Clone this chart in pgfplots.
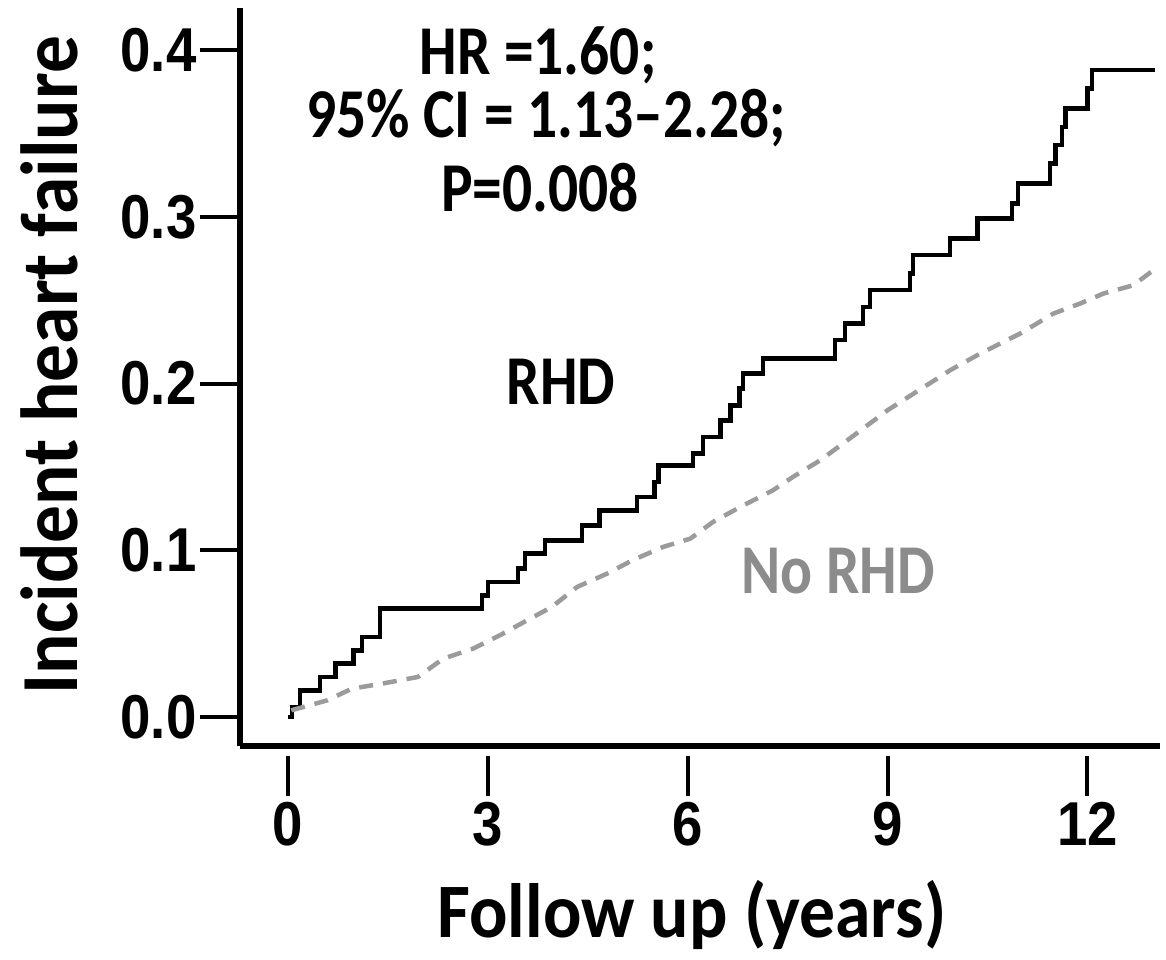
\documentclass[border=0pt]{standalone}
\usepackage{pgfplots}
\pgfplotsset{compat=1.18}
\usepackage{fontspec}
\setmainfont{Carlito}
\newfontfamily\annfont{Carlito}[FakeStretch=0.85,Ligatures=TeX]
\newfontfamily\labfont{Carlito}[FakeStretch=0.93]
\newfontfamily\tickfont{Liberation Sans}[FakeStretch=0.88]
\definecolor{norhd}{RGB}{155,155,155}
\definecolor{norhdtext}{RGB}{140,140,140}

\begin{document}
\begin{tikzpicture}[x=1pt,y=1pt]
\path[use as bounding box] (0,0) rectangle (1166,959);
\begin{axis}[
  at={(240pt,213pt)}, anchor=south west,
  scale only axis, width=920pt, height=738pt,
  xmin=-0.72, xmax=13.09, ymin=-0.0174, ymax=0.4253,
  axis x line*=bottom, axis y line*=left,
  axis line style={line width=6pt, -},
  tick align=outside, major tick length=40pt,
  tick style={line width=4pt, black},
  xtick style={yshift=-10pt},
  xtick={0,3,6,9,12}, xticklabels={0,3,6,9,12},
  ytick={0,0.1,0.2,0.3,0.4}, yticklabels={0.0,0.1,0.2,0.3,0.4},
  ticklabel style={font=\tickfont\bfseries\fontsize{62}{62}\selectfont},
  xticklabel style={yshift=-13pt},
  xlabel={Follow up (years)},
  ylabel={Incident heart failure},
  xlabel style={font=\labfont\bfseries\fontsize{77}{77}\selectfont, at={(axis description cs:0.491,-0.259)}, anchor=base},
  ylabel style={font=\labfont\bfseries\fontsize{81}{81}\selectfont, at={(axis description cs:-0.177,0.516)}, anchor=base, rotate=0},
  clip=false,
]
\addplot[const plot, black, line width=4.5pt] coordinates {
(0,0) (0.06,0.006) (0.18,0.016) (0.48,0.024) (0.71,0.032) (0.98,0.040)
(1.11,0.048) (1.38,0.065) (2.91,0.073) (3.00,0.081) (3.45,0.089)
(3.56,0.098) (3.86,0.106) (4.41,0.115) (4.68,0.124) (5.24,0.132)
(5.50,0.141) (5.56,0.151) (6.08,0.158) (6.23,0.168) (6.49,0.178)
(6.64,0.187) (6.78,0.197) (6.83,0.206) (7.13,0.215) (8.21,0.226)
(8.36,0.236) (8.63,0.246) (8.74,0.256) (9.34,0.266) (9.38,0.277)
(9.94,0.287) (10.35,0.299) (10.87,0.308) (10.96,0.320) (11.44,0.332)
(11.52,0.343) (11.62,0.354) (11.67,0.365) (12.00,0.377) (12.07,0.388)
(13.02,0.388)
};
\addplot[norhd, line width=4.5pt, dash pattern=on 14pt off 10pt] coordinates {
(0.05,0.004) (0.59,0.010) (0.96,0.017) (1.41,0.020) (1.95,0.024)
(2.33,0.035) (2.78,0.041) (3.18,0.049) (3.59,0.058) (3.96,0.066)
(4.34,0.078) (4.79,0.086) (5.17,0.094) (5.63,0.102) (6.04,0.107)
(6.38,0.117) (6.79,0.126) (7.28,0.136) (7.58,0.144) (7.99,0.154)
(8.33,0.164) (9.00,0.184) (9.94,0.208) (10.39,0.218) (10.99,0.230)
(11.49,0.242) (11.89,0.248) (12.24,0.254) (12.69,0.259) (12.99,0.268)
};
\end{axis}
\begin{scope}[every node/.style={font=\annfont\bfseries\fontsize{70}{70}\selectfont, anchor=base, inner sep=0pt}]
\node at (538,884) {HR =1.60;};
\node at (546,821) {95\% CI = 1.13–2.28;};
\node at (540,747) {P=0.008};
\node at (561,554) {RHD};
\node[text=norhdtext] at (838,366) {No RHD};
\end{scope}
\end{tikzpicture}
\end{document}
